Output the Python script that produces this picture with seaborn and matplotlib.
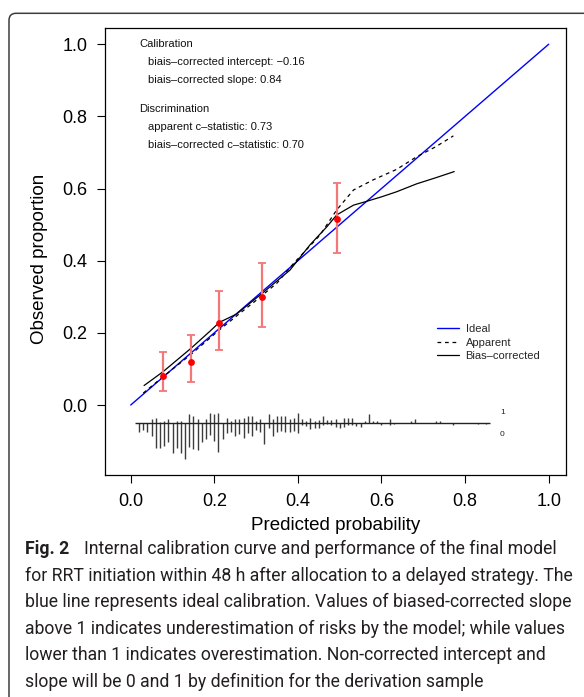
import matplotlib
matplotlib.use("Agg")
import matplotlib.pyplot as plt
import matplotlib.transforms as mtransforms
from matplotlib.patches import FancyBboxPatch
from matplotlib.lines import Line2D
import numpy as np
import pandas as pd
import seaborn as sns

# ---------------- data ----------------
ideal_x = [0.0, 1.0]
ideal_y = [0.0, 1.0]

apparent_x = [0.030, 0.077, 0.144, 0.212, 0.262, 0.300, 0.350, 0.390, 0.420, 0.453,
              0.493, 0.533, 0.580, 0.636, 0.684, 0.730, 0.772]
apparent_y = [0.033, 0.078, 0.140, 0.208, 0.255, 0.290, 0.338, 0.393, 0.430, 0.471,
              0.541, 0.596, 0.624, 0.653, 0.688, 0.716, 0.746]

bias_x = [0.032, 0.077, 0.144, 0.190, 0.212, 0.253, 0.315, 0.381, 0.429, 0.470,
          0.493, 0.533, 0.560, 0.600, 0.636, 0.684, 0.730, 0.774]
bias_y = [0.054, 0.092, 0.157, 0.205, 0.229, 0.252, 0.310, 0.374, 0.444, 0.495,
          0.527, 0.554, 0.563, 0.577, 0.591, 0.613, 0.630, 0.647]

group_pred = [0.077, 0.144, 0.212, 0.315, 0.494]
group_obs = [0.081, 0.118, 0.226, 0.300, 0.516]
group_lo = [0.038, 0.064, 0.152, 0.216, 0.421]
group_hi = [0.148, 0.193, 0.317, 0.395, 0.614]

# spike histogram of predicted probabilities (relative heights)
spike_x = [0.02, 0.03, 0.04, 0.05, 0.06, 0.07, 0.08, 0.09, 0.10, 0.11, 0.12, 0.13,
           0.14, 0.15, 0.16, 0.17, 0.18, 0.19, 0.20, 0.21, 0.22, 0.23, 0.24, 0.25,
           0.26, 0.27, 0.28, 0.29, 0.30, 0.31, 0.32, 0.33, 0.34, 0.35, 0.36, 0.37,
           0.38, 0.39, 0.40, 0.41, 0.42, 0.43, 0.44, 0.45, 0.46, 0.47, 0.48, 0.49,
           0.50, 0.51, 0.52, 0.53, 0.54, 0.55, 0.56, 0.57, 0.58, 0.59, 0.60, 0.62,
           0.63, 0.67, 0.68, 0.73, 0.74, 0.77, 0.83, 0.85]
spike_event = [0, 0, 0, 3.3, 4.3, 1, 1.7, 3.3, 0, 1.7, 1.7, 0,
               8.3, 6.7, 3.3, 0, 3.3, 10, 8.3, 10, 0, 5, 1.7, 3.3,
               3.3, 5, 6.7, 6.7, 1.7, 3.3, 0, 8.3, 3.3, 6.7, 6.7, 6.7,
               3.3, 5, 9.3, 3.3, 1.7, 4.3, 1.7, 2.7, 6.7, 2.7, 2.7, 3.3,
               0, 4.3, 4.3, 4.3, 0, 0, 1.7, 8.3, 1.7, 1.7, 0, 3.3,
               0, 1.7, 3.3, 1.7, 1.7, 0, 0, 0]
spike_nonevent = [9, 7.3, 9, 13.3, 25, 25, 23.3, 19, 30, 25, 30, 36.7,
                  24, 26.7, 27.3, 19, 16.7, 12.3, 18.3, 29, 16.7, 10, 9, 13.3,
                  11.7, 15, 10.7, 13.3, 7.3, 9, 21.7, 5.7, 13.3, 9, 8.3, 9,
                  9, 8.3, 10.7, 2.7, 3.7, 6, 5.7, 5, 2.3, 1.3, 2.3, 4,
                  5.7, 4, 2.3, 2.3, 3.3, 4, 0, 0, 0, 0, 2.3, 2.3,
                  1.3, 0, 0, 0, 0, 2.3, 1.3, 1.3]
spike_range = [0.0095, 0.86]

stat_lines = ["Calibration",
              "biais\u2013corrected intercept: \u22120.16",
              "biais\u2013corrected slope: 0.84",
              "Discrimination",
              "apparent c\u2013statistic: 0.73",
              "biais\u2013corrected c\u2013statistic: 0.70"]
stat_indent = [0, 1, 1, 0, 1, 1]
stat_y = [1.000, 0.950, 0.901, 0.821, 0.771, 0.721]

legend_labels = ["Ideal", "Apparent", "Bias\u2013corrected"]
xticks = [0.0, 0.2, 0.4, 0.6, 0.8, 1.0]
yticks = [0.0, 0.2, 0.4, 0.6, 0.8, 1.0]
tick_labels = ["0.0", "0.2", "0.4", "0.6", "0.8", "1.0"]

caption_head = "Fig. 2"
caption_lines = [
    "Internal calibration curve and performance of the final model",
    "for RRT initiation within 48 h after allocation to a delayed strategy. The",
    "blue line represents ideal calibration. Values of biased-corrected slope",
    "above 1 indicates underestimation of risks by the model; while values",
    "lower than 1 indicates overestimation. Non-corrected intercept and",
    "slope will be 0 and 1 by definition for the derivation sample",
]

# ---------------- figure ----------------
sns.set_theme(style="white")
plt.rcParams['font.family'] = ['Liberation Sans', 'DejaVu Sans']

W, H = 584, 697
fig = plt.figure(figsize=(W / 100, H / 100), dpi=100)
fig.patch.set_facecolor("white")

ax_l, ax_r, ax_t, ax_b = 105, 566, 28, 475
ax = fig.add_axes([ax_l / W, 1 - ax_b / H, (ax_r - ax_l) / W, (ax_b - ax_t) / H])
ax.set_facecolor("white")

blue = "#0000ff"
sns.lineplot(x=ideal_x, y=ideal_y, color=blue, lw=1.0, ax=ax, sort=False, estimator=None)
sns.lineplot(x=apparent_x, y=apparent_y, color="black", lw=0.9, ax=ax, sort=False,
             estimator=None, linestyle=(0, (3, 3)))
sns.lineplot(x=bias_x, y=bias_y, color="black", lw=0.9, ax=ax, sort=False, estimator=None)

gp = np.array(group_pred)
go = np.array(group_obs)
yerr = [go - np.array(group_lo), np.array(group_hi) - go]
ax.errorbar(gp, go, yerr=yerr, fmt="none", ecolor="#f37777", elinewidth=1.6,
            capsize=3.2, capthick=1.3, zorder=4)
sns.scatterplot(x=group_pred, y=group_obs, color="red", s=24, marker="o",
                linewidth=0, ax=ax, zorder=5)

# spike histogram
base = -0.049
scale = 1 / 360.7
sx = np.array(spike_x)
up = np.array(spike_event) * scale
dn = np.array(spike_nonevent) * scale
m_up = up > 0
m_dn = dn > 0
ax.vlines(sx[m_up], base, base + up[m_up], color="#3c3c3c", lw=1.0)
ax.vlines(sx[m_dn], base - dn[m_dn], base, color="#3c3c3c", lw=1.0)
ax.hlines(base, spike_range[0], spike_range[1], color="#222222", lw=1.0)
ax.text(0.889, -0.021, "1", fontsize=6, ha="center", va="center", color="#222222")
ax.text(0.889, -0.081, "0", fontsize=6, ha="center", va="center", color="#222222")

# stat text
for s, ind, yy in zip(stat_lines, stat_indent, stat_y):
    ax.text(0.020 + 0.021 * ind, yy, s, fontsize=8, ha="left", va="center", color="#111111")

# legend
handles = [Line2D([], [], color=blue, lw=1.0),
           Line2D([], [], color="black", lw=0.9, linestyle=(0, (3, 3))),
           Line2D([], [], color="black", lw=0.9)]
ax.legend(handles, legend_labels, loc="upper left", bbox_to_anchor=(0.7195, 0.337),
          frameon=False, fontsize=8, handlelength=2.0, handletextpad=0.6,
          labelspacing=0.3, borderpad=0, borderaxespad=0)

ax.set_xlim(-0.0615, 1.0414)
ax.set_ylim(-0.194, 1.045)
ax.set_xticks(xticks)
ax.set_xticklabels(tick_labels)
ax.set_yticks(yticks)
ax.set_yticklabels(tick_labels)
ax.tick_params(axis="both", which="both", direction="out", length=5.8, width=0.8,
               pad=7, labelsize=13, colors="black", bottom=True, left=True)
for sp in ax.spines.values():
    sp.set_visible(True)
    sp.set_color("black")
    sp.set_linewidth(0.9)

ax.set_xlabel("Predicted probability", fontsize=13.5, color="black")
ax.set_ylabel("Observed proportion", fontsize=13.5, color="black")
ax.xaxis.label.set_va("center")
ax.yaxis.label.set_va("center")
ax.xaxis.set_label_coords(0.5, (ax_b - 525) / (ax_b - ax_t))
ax.yaxis.set_label_coords((40 - ax_l) / (ax_r - ax_l), (ax_b - 258.5) / (ax_b - ax_t))

# ---------------- rounded frame ----------------
frame = FancyBboxPatch((9, -80), 720, H - 13.3 + 80,
                       boxstyle="round,pad=0,rounding_size=7",
                       facecolor="none", edgecolor="#3d3d3d", lw=1.1,
                       transform=mtransforms.IdentityTransform())
fig.patches.append(frame)

# ---------------- caption ----------------
cap_font = ["Roboto", "DejaVu Sans"]
cap_color = "#231f20"
renderer = fig.canvas.get_renderer()
probe = fig.text(0, 0, caption_lines[1], fontsize=12, family=cap_font)
w12 = probe.get_window_extent(renderer).width
probe.remove()
cap_fs = 12 * (573 - 25) / w12

x0 = 25
base0 = 554.0
step = 26.6
head = fig.text(x0 / W, 1 - base0 / H, caption_head, fontsize=cap_fs, family=cap_font,
                weight="bold", color=cap_color, va="baseline", ha="left")
hw = head.get_window_extent(renderer).width
for i, line in enumerate(caption_lines):
    xx = x0 + (hw + 15 if i == 0 else 0)
    fig.text(xx / W, 1 - (base0 + i * step) / H, line, fontsize=cap_fs, family=cap_font,
             color=cap_color, va="baseline", ha="left")

fig.savefig("out.png", dpi=100)
